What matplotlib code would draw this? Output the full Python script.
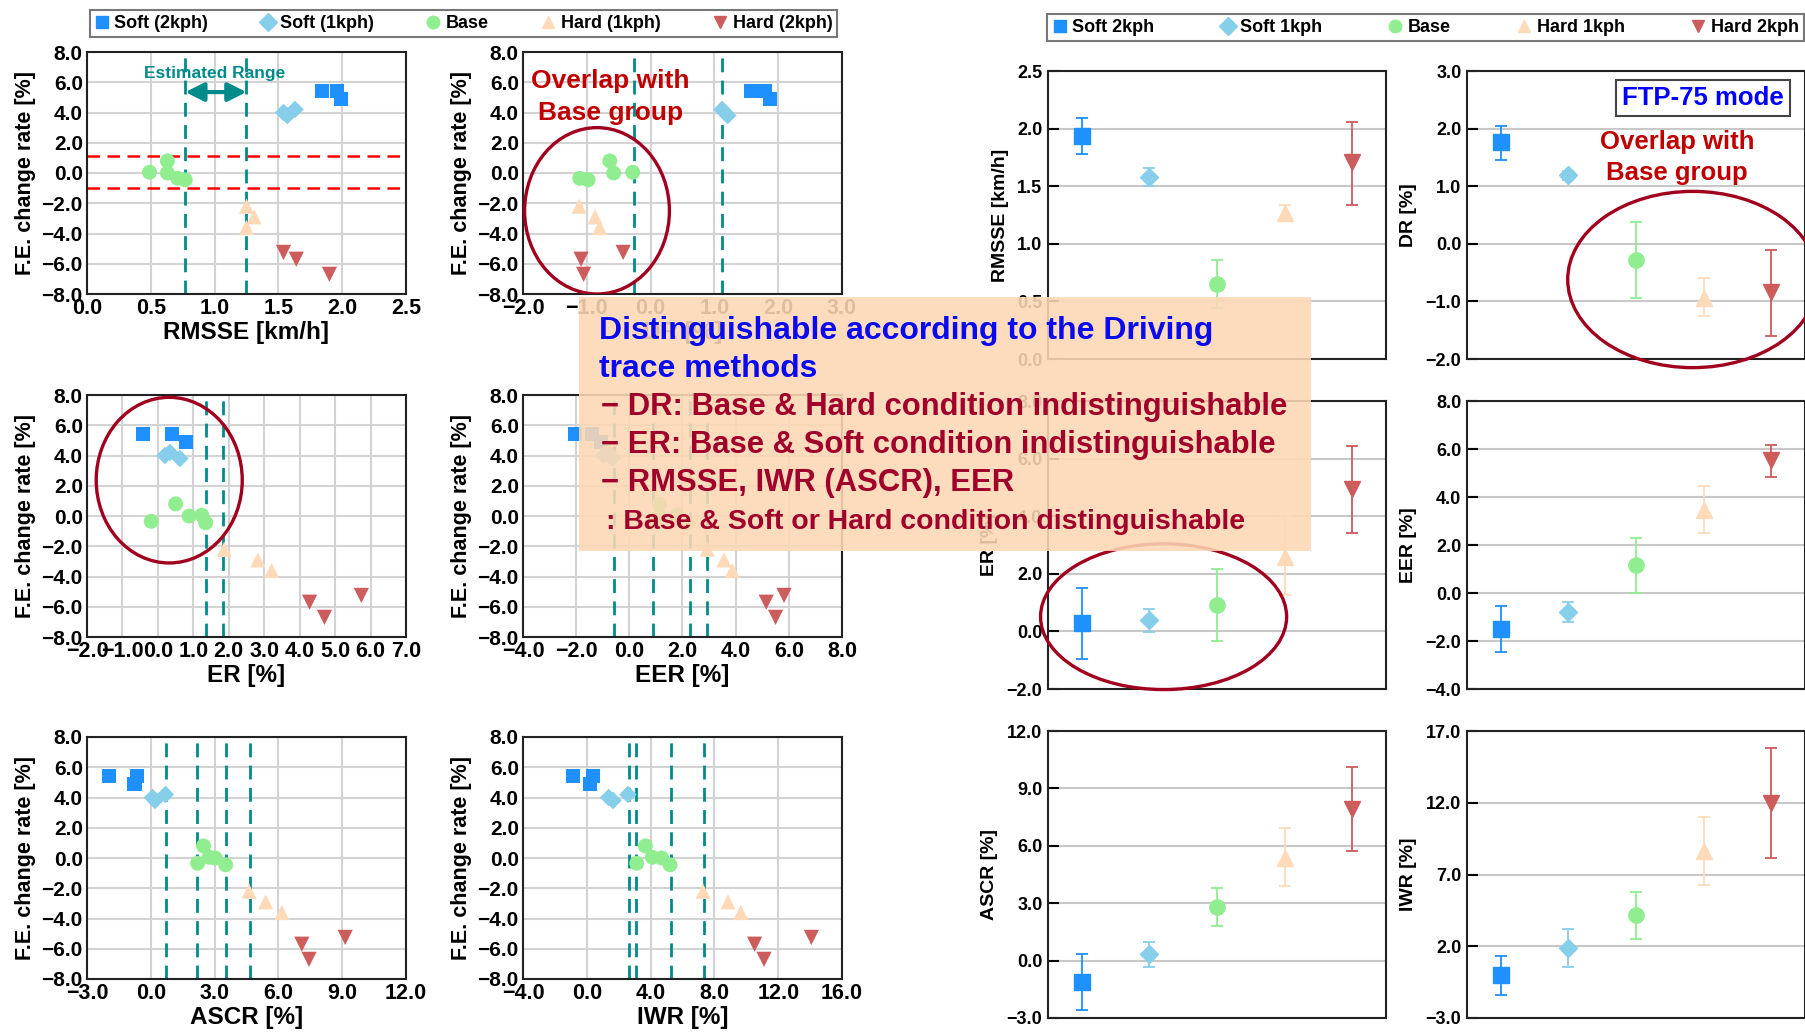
import numpy as np
import matplotlib
matplotlib.use('Agg')
import matplotlib.pyplot as plt
from matplotlib.patches import Ellipse, Rectangle
from matplotlib.lines import Line2D

plt.rcParams['font.family'] = ['Liberation Sans', 'DejaVu Sans']
plt.rcParams['font.weight'] = 'bold'
plt.rcParams['axes.labelweight'] = 'bold'

# groups / styles
groups_left = ['Soft (2kph)', 'Soft (1kph)', 'Base', 'Hard (1kph)', 'Hard (2kph)']
groups_right = ['Soft 2kph', 'Soft 1kph', 'Base', 'Hard 1kph', 'Hard 2kph']
colors = ['#1E90FF', '#87CEEB', '#90EE90', '#FFDAB9', '#CD5C5C']
markers = ['s', 'D', 'o', '^', 'v']
msizes = [105, 80, 115, 120, 120]

# F.E. change rate of each run (same runs in every scatter)
fe_soft2 = [5.4, 5.4, 4.9]
fe_soft1 = [4.2, 4.0, 3.8]
fe_base = [0.8, 0.05, 0.0, -0.35, -0.45]
fe_hard1 = [-2.2, -2.9, -3.6]
fe_hard2 = [-5.25, -5.7, -6.7]

# metric values of each run, same order as above
rmsse_soft2 = [1.84, 1.96, 1.99]
rmsse_soft1 = [1.63, 1.54, 1.57]
rmsse_base = [0.63, 0.49, 0.63, 0.71, 0.77]
rmsse_hard1 = [1.25, 1.31, 1.25]
rmsse_hard2 = [1.54, 1.64, 1.90]

dr_soft2 = [1.58, 1.79, 1.87]
dr_soft1 = [1.12, 1.16, 1.21]
dr_base = [-0.64, -0.28, -0.58, -1.11, -0.98]
dr_hard1 = [-1.12, -0.87, -0.80]
dr_hard2 = [-0.43, -1.09, -1.05]

er_soft2 = [-0.42, 0.39, 0.79]
er_soft1 = [0.34, 0.20, 0.62]
er_base = [0.50, 1.24, 0.88, -0.19, 1.35]
er_hard1 = [1.87, 2.82, 3.21]
er_hard2 = [5.74, 4.28, 4.70]

eer_soft2 = [-2.04, -1.39, -1.08]
eer_soft1 = [-0.80, -0.97, -0.64]
eer_base = [1.14, 1.79, 1.14, 0.95, 2.20]
eer_hard1 = [2.93, 3.56, 3.87]
eer_hard2 = [5.82, 5.15, 5.50]

ascr_soft2 = [-1.96, -0.64, -0.77]
ascr_soft1 = [0.69, 0.08, 0.20]
ascr_base = [2.48, 2.75, 3.03, 2.20, 3.52]
ascr_hard1 = [4.62, 5.40, 6.16]
ascr_hard2 = [9.14, 7.10, 7.44]

iwr_soft2 = [-0.87, 0.39, 0.22]
iwr_soft1 = [2.58, 1.37, 1.64]
iwr_base = [3.67, 4.11, 4.69, 3.13, 5.22]
iwr_hard1 = [7.29, 8.85, 9.65]
iwr_hard2 = [14.08, 10.52, 11.11]

# dashed "estimated range" lines
rmsse_lines = [0.77, 1.25]
dr_lines = [-0.255, 1.12]
er_lines = [1.37, 1.85]
eer_lines = [-0.58, 0.89, 2.29, 2.92]
ascr_lines = [0.72, 2.17, 3.55, 4.68]
iwr_lines = [2.62, 3.11, 5.28, 7.33]

# FTP-75 mode mean and error bar ends
rmsse_mean = [1.94, 1.58, 0.65, 1.27, 1.71]
rmsse_up = [2.09, 1.66, 0.86, 1.34, 2.06]
rmsse_lo = [1.78, 1.50, 0.445, 1.21, 1.335]
dr_mean = [1.76, 1.20, -0.28, -0.94, -0.84]
dr_up = [2.04, 1.27, 0.38, -0.60, -0.10]
dr_lo = [1.46, 1.11, -0.94, -1.26, -1.60]
er_mean = [0.28, 0.39, 0.90, 2.60, 4.96]
er_up = [1.50, 0.79, 2.15, 4.00, 6.43]
er_lo = [-0.97, -0.01, -0.35, 1.28, 3.43]
eer_mean = [-1.48, -0.81, 1.16, 3.45, 5.53]
eer_up = [-0.53, -0.38, 2.31, 4.45, 6.18]
eer_lo = [-2.45, -1.20, 0.02, 2.52, 4.84]
ascr_mean = [-1.10, 0.33, 2.82, 5.37, 7.94]
ascr_up = [0.37, 0.96, 3.81, 6.94, 10.12]
ascr_lo = [-2.60, -0.33, 1.80, 3.90, 5.73]
iwr_mean = [-0.03, 1.89, 4.21, 8.63, 11.99]
iwr_up = [1.29, 3.19, 5.81, 11.02, 15.80]
iwr_lo = [-1.42, 0.57, 2.52, 6.27, 8.12]

teal = '#008B8B'
dark_red = '#A0001E'
W, H = 1806, 1036

fig = plt.figure(figsize=(W / 100, H / 100), dpi=100)


def px_axes(x0, y0, x1, y1):
    return fig.add_axes([x0 / W, 1 - y1 / H, (x1 - x0) / W, (y1 - y0) / H])


fe_all = [fe_soft2, fe_soft1, fe_base, fe_hard1, fe_hard2]


def scatter_panel(ax, xs, lines, xlim, xstep, xlabel):
    for i in range(5):
        ax.scatter(xs[i], fe_all[i], marker=markers[i], s=msizes[i],
                   color=colors[i], edgecolors='none', zorder=3)
    for v in lines:
        ax.axvline(v, color=teal, lw=2, dashes=(5, 3), zorder=2)
    ax.set_xlim(xlim)
    ax.set_ylim(-8, 8)
    ax.set_xticks(np.arange(xlim[0], xlim[1] + 0.001, xstep))
    ax.set_yticks(np.arange(-8, 8.01, 2))
    ax.xaxis.set_major_formatter('{x:.1f}')
    ax.yaxis.set_major_formatter('{x:.1f}')
    ax.grid(True, color='#D3D3D3', lw=1.5, zorder=0)
    ax.set_axisbelow(True)
    ax.tick_params(length=0, pad=3)
    ax.tick_params(axis='x', labelsize=15.5)
    ax.tick_params(axis='y', labelsize=15)
    for s in ax.spines.values():
        s.set_linewidth(1.5)
        s.set_color('#222222')
    ax.set_xlabel(xlabel, fontsize=17.5, labelpad=1)
    ax.set_ylabel('F.E. change rate [%]', fontsize=15.5, labelpad=4)


ax1 = px_axes(87, 52, 406, 294)
scatter_panel(ax1, [rmsse_soft2, rmsse_soft1, rmsse_base, rmsse_hard1, rmsse_hard2],
              rmsse_lines, (0, 2.5), 0.5, 'RMSSE [km/h]')
ax1.axhline(1.1, color='#FF0000', lw=1.8, dashes=(5, 3), zorder=2)
ax1.axhline(-1.0, color='#FF0000', lw=1.8, dashes=(5, 3), zorder=2)
ax1.annotate('', xy=(0.77, 5.35), xytext=(1.25, 5.35),
             arrowprops=dict(arrowstyle='<|-|>', color=teal, lw=3, mutation_scale=28,
                             shrinkA=0, shrinkB=0))
ax1.text(1.0, 6.6, 'Estimated Range', color=teal, fontsize=12.5, ha='center', va='center')

ax2 = px_axes(523, 52, 842, 294)
scatter_panel(ax2, [dr_soft2, dr_soft1, dr_base, dr_hard1, dr_hard2],
              dr_lines, (-2, 3), 1, 'DR [%]')
ax2.add_patch(Ellipse((-0.84, -2.5), 2.27, 11, fill=False, edgecolor=dark_red, lw=2.4, zorder=4))
ax2.text(-0.63, 6.06, 'Overlap with', color='#C00000', fontsize=19, ha='center', va='center')
ax2.text(-0.63, 3.96, 'Base group', color='#C00000', fontsize=19, ha='center', va='center')

ax3 = px_axes(87, 395, 406, 637)
scatter_panel(ax3, [er_soft2, er_soft1, er_base, er_hard1, er_hard2],
              er_lines, (-2, 7), 1, 'ER [%]')
ax3.add_patch(Ellipse((0.32, 2.37), 4.12, 10.95, fill=False, edgecolor=dark_red, lw=2.4, zorder=4))

ax4 = px_axes(523, 395, 842, 637)
scatter_panel(ax4, [eer_soft2, eer_soft1, eer_base, eer_hard1, eer_hard2],
              eer_lines, (-4, 8), 2, 'EER [%]')

ax5 = px_axes(87, 737, 406, 979)
scatter_panel(ax5, [ascr_soft2, ascr_soft1, ascr_base, ascr_hard1, ascr_hard2],
              ascr_lines, (-3, 12), 3, 'ASCR [%]')

ax6 = px_axes(523, 737, 842, 979)
scatter_panel(ax6, [iwr_soft2, iwr_soft1, iwr_base, iwr_hard1, iwr_hard2],
              iwr_lines, (-4, 16), 4, 'IWR [%]')

# ---- right side: FTP-75 mode error bars
pos = np.arange(1, 6)
err_ms = [11, 9, 11, 12, 12]


def err_panel(ax, mean, up, lo, ylim, ystep, ylabel):
    for i in range(5):
        ax.errorbar(pos[i], mean[i], yerr=[[mean[i] - lo[i]], [up[i] - mean[i]]],
                    fmt=markers[i], color=colors[i], ms=err_ms[i], mec=colors[i],
                    elinewidth=1.3, capsize=4, capthick=1.3, zorder=3)
    ax.set_xlim(0.5, 5.5)
    ax.set_ylim(ylim)
    ax.set_xticks([])
    ax.set_yticks(np.arange(ylim[0], ylim[1] + 0.001, ystep))
    ax.yaxis.set_major_formatter('{x:.1f}')
    ax.grid(True, axis='y', color='#C8C8C8', lw=1.5, zorder=0)
    ax.set_axisbelow(True)
    ax.tick_params(axis='y', direction='in', length=8, width=1.5, labelsize=13, pad=4)
    for s in ax.spines.values():
        s.set_linewidth(1.5)
        s.set_color('#222222')
    ax.set_ylabel(ylabel, fontsize=14, labelpad=6)


bx1 = px_axes(1048, 71, 1386, 359)
err_panel(bx1, rmsse_mean, rmsse_up, rmsse_lo, (0, 2.5), 0.5, 'RMSSE [km/h]')

bx2 = px_axes(1467, 71, 1805, 359)
err_panel(bx2, dr_mean, dr_up, dr_lo, (-2, 3), 1, 'DR [%]')
bx2.text(0.698, 0.906, 'FTP-75 mode', transform=bx2.transAxes, color='#0000FF', fontsize=18.5,
         ha='center', va='center',
         bbox=dict(boxstyle='square,pad=0.25', facecolor='white', edgecolor='#444444', lw=1.5))
bx2.text(3.61, 1.77, 'Overlap with', color='#C00000', fontsize=18.5, ha='center', va='center')
bx2.text(3.61, 1.23, 'Base group', color='#C00000', fontsize=18.5, ha='center', va='center')
bx2.add_patch(Ellipse((3.84, -0.62), 3.7, 3.06, fill=False, edgecolor=dark_red, lw=2.4,
                      zorder=4, clip_on=False))

bx3 = px_axes(1048, 401, 1386, 689)
err_panel(bx3, er_mean, er_up, er_lo, (-2, 8), 2, 'ER [%]')
bx3.add_patch(Ellipse((2.21, 0.51), 3.64, 5.06, fill=False, edgecolor=dark_red, lw=2.4,
                      zorder=4, clip_on=False))

bx4 = px_axes(1467, 401, 1805, 689)
err_panel(bx4, eer_mean, eer_up, eer_lo, (-4, 8), 2, 'EER [%]')

bx5 = px_axes(1048, 731, 1386, 1018)
err_panel(bx5, ascr_mean, ascr_up, ascr_lo, (-3, 12), 3, 'ASCR [%]')

bx6 = px_axes(1467, 731, 1805, 1018)
err_panel(bx6, iwr_mean, iwr_up, iwr_lo, (-3, 17), 5, 'IWR [%]')

# ---- legends
def handles():
    return [Line2D([], [], ls='none', marker=markers[i], color=colors[i], ms=9)
            for i in range(5)]


leg1 = fig.legend(handles(), groups_left, loc='center', ncol=5, mode='expand',
                  bbox_to_anchor=(90 / W, 1 - 37 / H, 747 / W, 27 / H), fontsize=13,
                  frameon=True, fancybox=False, edgecolor='#555555', borderaxespad=0,
                  handlelength=0.8, handletextpad=0.3, borderpad=0.25)
leg1.get_frame().set_linewidth(1.5)
leg2 = fig.legend(handles(), groups_right, loc='center', ncol=5, mode='expand',
                  bbox_to_anchor=(1047 / W, 1 - 42 / H, 757 / W, 29 / H), fontsize=13,
                  frameon=True, fancybox=False, edgecolor='#555555', borderaxespad=0,
                  handlelength=0.8, handletextpad=0.3, borderpad=0.3)
leg2.get_frame().set_linewidth(1.5)

# ---- overlay note
fig.add_artist(Rectangle((579 / W, 1 - 551 / H), 732 / W, 254 / H, transform=fig.transFigure,
                         facecolor='#FDD8B5', alpha=0.88, edgecolor='none', zorder=10))
blue = '#0A0AF0'
red = '#A0002A'
fig.text(599 / W, 1 - 331 / H, 'Distinguishable according to the Driving', color=blue,
         fontsize=23, va='center', zorder=11)
fig.text(599 / W, 1 - 369 / H, 'trace methods', color=blue, fontsize=23, va='center', zorder=11)
notes = ['\u2212 DR: Base & Hard condition indistinguishable',
         '\u2212 ER: Base & Soft condition indistinguishable',
         '\u2212 RMSSE, IWR (ASCR), EER']
for k, t in enumerate(notes):
    fig.text(601 / W, 1 - (407 + 38 * k) / H, t, color=red, fontsize=22.3, va='center', zorder=11)
fig.text(606 / W, 1 - 522 / H, ': Base & Soft or Hard condition distinguishable', color=red,
         fontsize=20.5, va='center', zorder=11)

fig.savefig('out.png', dpi=100)
